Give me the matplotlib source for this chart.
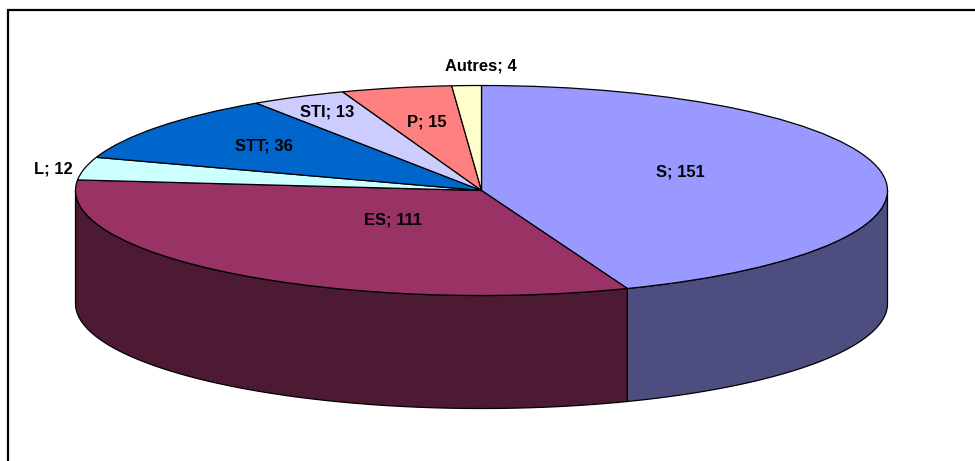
import numpy as np
import matplotlib
matplotlib.use('Agg')
import matplotlib.pyplot as plt

categories = ['S', 'ES', 'L', 'STT', 'STI', 'P', 'Autres']
values = [151, 111, 12, 36, 13, 15, 4]
top_colors = ['#9999FF', '#993366', '#CCFFFF', '#0066CC', '#CCCCFF', '#FF8080', '#FFFFCC']
side_colors = ['#4D4D80', '#4D1A33', '#668080', '#003366', '#666680', '#804040', '#808066']

# pie geometry on the image, in pixels
W, H = 975, 461
cx, cy = 481.5, 190.5
rx, ry = 406, 105
depth = 113

plt.rcParams['font.family'] = ['Liberation Sans', 'DejaVu Sans']

def px(x):
    return (x - cx) / rx

def py(y):
    return (cy - y) / ry

fig = plt.figure(figsize=(W / 100, H / 100), dpi=100)
ax = fig.add_axes([0, 0, 1, 1])

# top of the pie, the axes stretch the circle into the ellipse
ax.pie(values, colors=top_colors, startangle=90, counterclock=False, radius=1,
       wedgeprops={'edgecolor': 'k', 'linewidth': 0.9, 'zorder': 3})
ax.set_aspect('auto')
ax.set_xlim(px(0), px(W))
ax.set_ylim(py(H), py(0))
ax.axis('off')

# side wall, only the part of each slice that faces the front
d = depth / ry
angle = 90.0
total = sum(values)
for v, c in zip(values, side_colors):
    a0 = angle
    a1 = angle - 360.0 * v / total
    angle = a1
    hi = min(a0, 0.0)
    lo = max(a1, -180.0)
    if hi <= lo:
        continue
    t = np.radians(np.linspace(hi, lo, 200))
    xs = np.cos(t)
    ys = np.sin(t)
    ax.fill(np.r_[xs, xs[::-1]], np.r_[ys, ys[::-1] - d], facecolor=c,
            edgecolor='k', linewidth=0.9, zorder=2)

# labels, pixel position of each text centre
label_x = [680, 393, 53, 264, 327, 427, 481]
label_y = [172, 220, 169, 146, 112, 122, 66]
for cat, v, x, y in zip(categories, values, label_x, label_y):
    ax.text(px(x), py(y), cat + '; ' + str(v), ha='center', va='center',
            fontsize=11.9, fontweight='bold', color='k', zorder=5)

# frame, only left and top show in the picture
ax.plot([px(8), px(8), px(W)], [py(H), py(10.5), py(10.5)], color='k', lw=1.6,
        clip_on=False, solid_joinstyle='miter')

fig.savefig('out.png', dpi=100, facecolor='white')
